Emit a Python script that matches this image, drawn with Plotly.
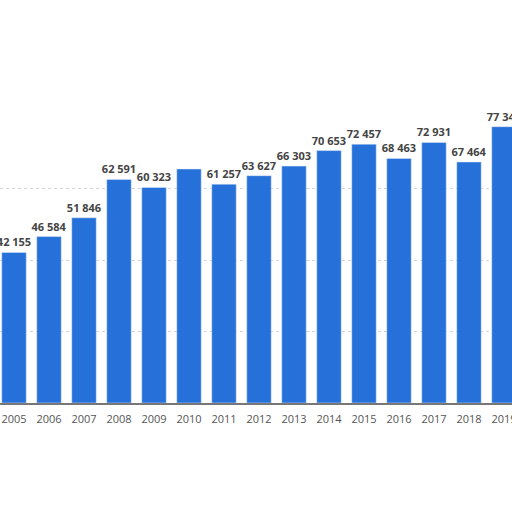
import plotly.graph_objects as go

years = [2005, 2006, 2007, 2008, 2009, 2010, 2011, 2012, 2013, 2014, 2015, 2016, 2017, 2018, 2019]
values = [42155, 46584, 51846, 62591, 60323, 65500, 61257, 63627, 66303, 70653, 72457, 68463, 72931, 67464, 77346]
# 2010 label is hidden in the source picture
labels = ['42 155', '46 584', '51 846', '62 591', '60 323', '', '61 257', '63 627', '66 303',
          '70 653', '72 457', '68 463', '72 931', '67 464', '77 346']
grid_vals = [20000, 40000, 60000]

fig = go.Figure(go.Bar(
    x=years, y=values, width=0.7,
    marker_color='#2671d9',
    text=labels, textposition='outside',
    textfont=dict(family='Open Sans', size=11, color='#444444', weight='bold'),
    cliponaxis=False,
))

fig.update_layout(
    width=512, height=512,
    margin=dict(l=0, r=0, t=0, b=109),
    paper_bgcolor='white', plot_bgcolor='white',
    showlegend=False,
    uniformtext=dict(minsize=11, mode='show'),
)
fig.update_xaxes(
    range=[2005 - 0.4, 2019 + 0.229], tickmode='linear', dtick=1,
    showline=True, linecolor='#777777', linewidth=2,
    ticks='', showgrid=False, automargin=False, ticklabeloverflow='allow',
    ticklabelstandoff=5,
    tickfont=dict(family='Open Sans', size=11, color='#555555'),
)
fig.update_yaxes(
    range=[0, 112800], tickvals=grid_vals, showticklabels=False,
    showgrid=True, gridcolor='#d4d4d4', griddash='dot', gridwidth=1,
    zeroline=False,
)

# drop the page margin so the chart sits at the window's corner
fig.write_html("out.html", config={'displayModeBar': False},
               post_script="document.body.style.margin='0';")
